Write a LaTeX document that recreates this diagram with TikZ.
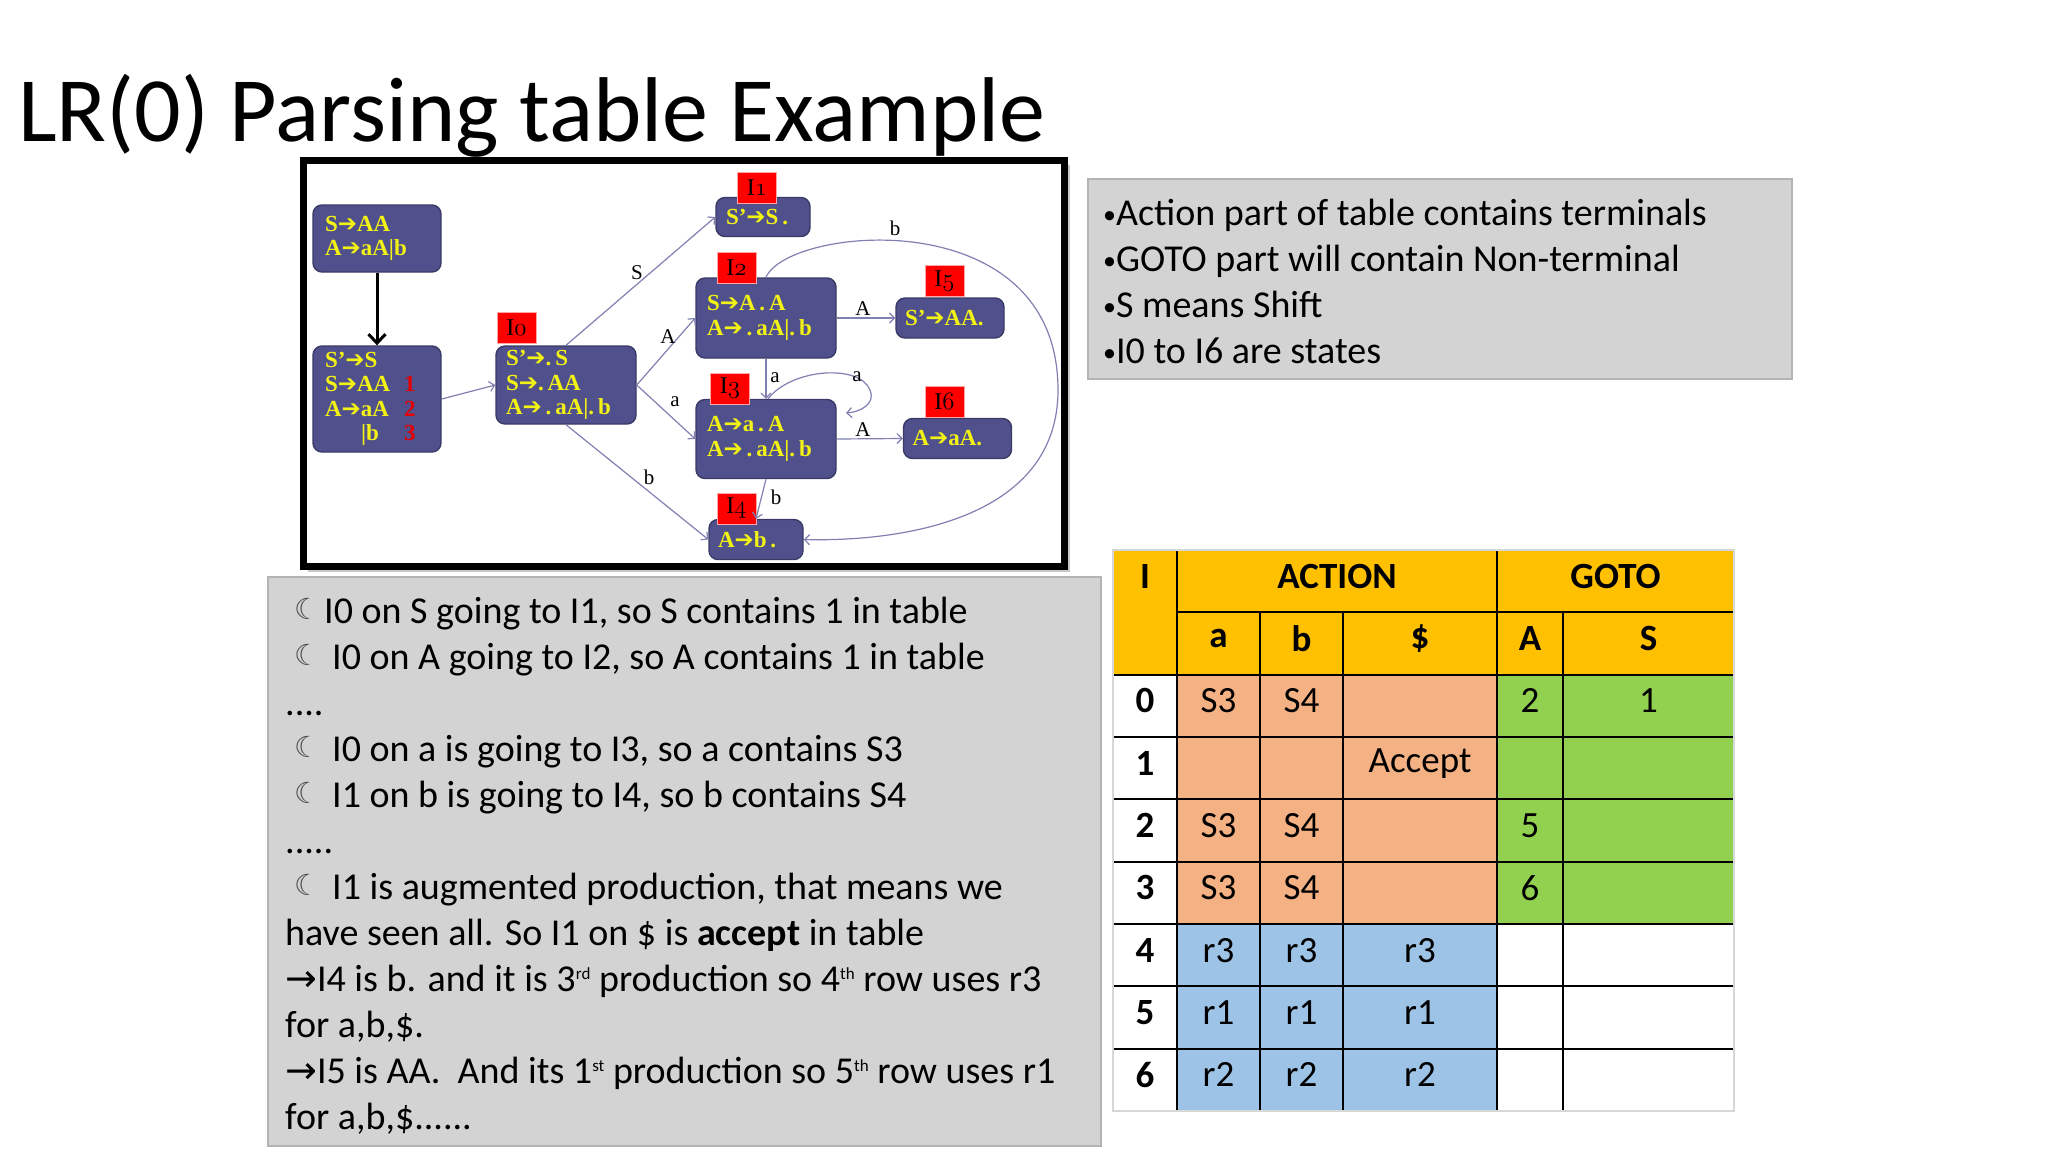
\documentclass[tikz,border=0pt]{standalone}
\usepackage{fontspec}
\setmainfont{Carlito}
\newfontfamily\dser{Liberation Serif}
\newfontfamily\djv{DejaVu Sans}
\usetikzlibrary{arrows.meta,calc}
\definecolor{nodefill}{RGB}{80,80,140}
\definecolor{nodeline}{RGB}{58,58,102}
\definecolor{ntext}{RGB}{242,242,20}
\definecolor{edgec}{RGB}{128,128,178}
\definecolor{boxgray}{RGB}{211,211,211}
\definecolor{boxline}{RGB}{180,180,180}
\definecolor{hdrc}{RGB}{255,192,0}
\definecolor{actc}{RGB}{244,177,131}
\definecolor{gotoc}{RGB}{146,208,80}
\definecolor{redc}{RGB}{157,195,230}
\definecolor{tborder}{RGB}{215,215,215}
\definecolor{numred}{RGB}{230,0,0}
\newcommand\rarr{{\djv\mdseries\fontsize{23}{23}\selectfont ➔}}
\newcommand\osn[1]{{\fontencoding{OML}\fontfamily{cmm}\fontseries{m}\fontshape{it}\selectfont #1}}
\newcommand\sups[1]{\raisebox{12pt}{\fontsize{17}{17}\selectfont #1}}
\newcommand\moon{{\djv\fontsize{29}{29}\selectfont\color{black!70}☾}}
\newcommand\bul{{\fontsize{26}{26}\selectfont\raisebox{2pt}{•}}}
\newcommand\prodln[2]{\makebox[79pt][l]{#1}{\color{numred}#2}}
\tikzset{
  stbox/.style={draw=nodeline, fill=nodefill, rounded corners=9pt, line width=1.4pt,
    inner ysep=0pt, text=ntext, font=\dser\bfseries\fontsize{23}{24.5}\selectfont, align=left},
  lblbox/.style={fill=red, draw=red!35, line width=0.8pt, inner sep=0pt,
    minimum width=39pt, minimum height=31pt, font=\dser\fontsize{24}{24}\selectfont},
  elbl/.style={font=\dser\fontsize{21}{21}\selectfont, inner sep=0pt},
  edge/.style={draw=edgec, line width=1.2pt, -{Straight Barb[length=5pt,width=10pt]}},
  txt/.style={anchor=base west, inner sep=0pt, font=\fontsize{38}{46}\selectfont},
  cell/.style={inner sep=0pt, yshift=5pt, font=\fontsize{37}{37}\selectfont},
  hcell/.style={inner sep=0pt, yshift=5pt, font=\bfseries\fontsize{37}{37}\selectfont},
  tl/.style={line width=2pt, black}
}
\begin{document}
\begin{tikzpicture}[x=1pt,y=-1pt]
\useasboundingbox (0,0) rectangle (2048,1152);
\fill[white] (0,0) rectangle (2048,1152);

% ---------- diagram frame ----------
\fill[black!22] (308,165) rectangle (1070,572);
\draw[line width=7pt, fill=white] (303.5,160.5) rectangle (1064.5,566.5);

% ---------- title ----------
\node[anchor=base west, inner sep=0pt, font=\fontsize{92}{100}\selectfont] (title) at (18,141) {LR(0) Parsing table Example};

% ---------- states ----------
\node[stbox, minimum width=128pt, minimum height=67pt, inner xsep=12pt, text width=104pt] (G) at (377,238.5)
  {S\rarr AA\\A\rarr aA|b};
\node[stbox, minimum width=128pt, minimum height=106pt, inner xsep=12pt, text width=104pt] (Aug) at (377,399)
  {S’\rarr S\\\prodln{S\rarr AA}{1}\\\prodln{A\rarr aA}{2}\\\prodln{\hspace*{36pt}|b}{3}};
\node[stbox, minimum width=140pt, minimum height=78pt, inner xsep=10pt, text width=120pt] (I0) at (566,385)
  {S’\rarr .\,S\\S\rarr .\,AA\\A\rarr\,.\,aA|.\,b};
\node[stbox, minimum width=94pt, minimum height=39pt, inner xsep=10pt, text width=74pt] (I1) at (763,217)
  {S’\rarr S\,.};
\node[stbox, minimum width=140pt, minimum height=80pt, inner xsep=11pt, text width=118pt] (I2) at (766,318)
  {S\rarr A\,.\,A\\A\rarr\,.\,aA|.\,b};
\node[stbox, minimum width=108pt, minimum height=40pt, inner xsep=9pt, text width=90pt] (I5) at (950,318)
  {S’\rarr AA.};
\node[stbox, minimum width=140pt, minimum height=79pt, inner xsep=11pt, text width=118pt] (I3) at (766,439)
  {A\rarr a\,.\,A\\A\rarr\,.\,aA|.\,b};
\node[stbox, minimum width=108pt, minimum height=40pt, inner xsep=9pt, text width=90pt] (I6) at (957.5,438.5)
  {A\rarr aA.};
\node[stbox, minimum width=94pt, minimum height=40pt, inner xsep=9pt, text width=76pt] (I4) at (756,539.5)
  {A\rarr b\,.};

% ---------- state labels ----------
\node[lblbox] (L0) at (516.5,328) {I\osn{0}};
\node[lblbox] (L1) at (757,187.5) {I\osn{1}};
\node[lblbox] (L2) at (736.5,267.5) {I\osn{2}};
\node[lblbox] (L5) at (944.5,281) {I\osn{5}};
\node[lblbox] (L3) at (730,388.5) {I\osn{3}};
\node[lblbox] (L6) at (944.5,401.5) {I\osn{6}};
\node[lblbox] (L4) at (736.5,508.5) {I\osn{4}};

% ---------- connectors ----------
\draw[line width=3pt, -{Straight Barb[length=9pt,width=17pt]}] (G.south) -- (Aug.north);
\draw[edge] (Aug.east) -- (I0.west);
\draw[edge] (I0.north) -- (I1.west);
\draw[edge] (I0.east) -- (I2.west);
\draw[edge] (I0.east) -- (I3.west);
\draw[edge] (I0.south) -- (I4.west);
\draw[edge] (I2.east) -- (I5.west);
\draw[edge] (I2.south) -- (I3.north);
\draw[edge] (I3.east) -- (I6.west);
\draw[edge] (I3.south) -- (I4.north);
\coordinate (loopend) at (846,413);
\draw[edge] ($(I3.north)+(2,0)$) .. controls (792,368) and (860,364) .. (870,390)
   .. controls (876,404) and (860,412) .. (loopend);
\coordinate (bmid) at (1058,390);
\draw[edge] (I2.north) .. controls (788,226) and (1058,200) .. (bmid)
   .. controls (1058,520) and (900,542) .. (I4.east);

% ---------- edge labels ----------
\node[elbl] (eS) at (637,273) {S};
\node[elbl] (eA0) at (668,337) {A};
\node[elbl] (ea0) at (675,402) {a};
\node[elbl] (eb0) at (649,477) {b};
\node[elbl] (eA2) at (863,309) {A};
\node[elbl] (ea2) at (775,378) {a};
\node[elbl] (ea3) at (857,377) {a};
\node[elbl] (eA3) at (863,430) {A};
\node[elbl] (eb3) at (776,497) {b};
\node[elbl] (eb2) at (895,228) {b};

% ---------- right info box ----------
\draw[fill=boxgray, draw=boxline, line width=1.5pt] (1088,179) rectangle (1792,379);
\node[txt] (n1) at (1103,225) {\bul Action part of table contains terminals};
\node[txt] (n2) at (1103,271) {\bul GOTO part will contain Non-terminal};
\node[txt] (n3) at (1103,317) {\bul S means Shift};
\node[txt] (n4) at (1103,363) {\bul I0 to I6 are states};

% ---------- bottom-left text box ----------
\draw[fill=boxgray, draw=boxline, line width=1.5pt] (268,577) rectangle (1101,1146);
\node[txt] (m1) at (294,619) {\moon};
\node[txt] (t1) at (324,623) {I0 on S going to I1, so S contains 1 in table};
\node[txt] (m2) at (294,665) {\moon};
\node[txt] (t2) at (332,669) {I0 on A going to I2, so A contains 1 in table};
\node[txt] (t3) at (285,715) {....};
\node[txt] (m4) at (294,757) {\moon};
\node[txt] (t4) at (332,761) {I0 on a is going to I3, so a contains S3};
\node[txt] (m5) at (294,803) {\moon};
\node[txt] (t5) at (332,807) {I1 on b is going to I4, so b contains S4};
\node[txt] (t6) at (285,853) {.....};
\node[txt] (m7) at (294,895) {\moon};
\node[txt] (t7) at (332,899) {I1 is augmented production, that means we};
\node[txt] (t8) at (285,945) {have seen all. So I1 on \$ is \textbf{accept} in table};
\node[txt] (t9) at (285,991) {{\djv →}I4 is b. and it is 3\sups{rd} production so 4\sups{th} row uses r3};
\node[txt] (t10) at (285,1037) {for a,b,\$.};
\node[txt] (t11) at (285,1083) {{\djv →}I5 is AA.\ \ And its 1\sups{st} production so 5\sups{th} row uses r1};
\node[txt] (t12) at (285,1129) {for a,b,\$......};

% ---------- table ----------
\def\ra{550}\def\rb{612.33}\def\rc{674.67}\def\rd{924}\def\re{1111}
\fill[hdrc] (1113,\ra) rectangle (1734,\rc);
\fill[white] (1113,\rc) rectangle (1177,\re);
\fill[actc] (1177,\rc) rectangle (1497,\rd);
\fill[gotoc] (1497,\rc) rectangle (1734,\rd);
\fill[redc] (1177,\rd) rectangle (1497,\re);
\fill[white] (1497,\rd) rectangle (1734,\re);
\draw[tl] (1177,\rb) -- (1734,\rb);
\foreach \k in {0,...,6} {
  \draw[tl] (1113,{674.67+62.33*\k}) -- (1734,{674.67+62.33*\k});
}
\draw[tl] (1177,\ra) -- (1177,\re);
\draw[tl] (1497,\ra) -- (1497,\re);
\draw[tl] (1260,\rb) -- (1260,\re);
\draw[tl] (1343,\rb) -- (1343,\re);
\draw[tl] (1563,\rb) -- (1563,\re);
\draw[tborder, line width=2pt] (1113,\ra) rectangle (1734,\re);

\node[hcell] (hI) at (1145,581) {I};
\node[hcell] (hAct) at (1337,581) {ACTION};
\node[hcell] (hGo) at (1615.5,581) {GOTO};
\node[hcell] (ha) at (1218.5,643.5) {a};
\node[hcell] (hb) at (1301.5,643.5) {b};
\node[hcell] (hd) at (1420,643.5) {\$};
\node[hcell] (hA) at (1530,643.5) {A};
\node[hcell] (hS) at (1648.5,643.5) {S};

\foreach \k in {0,...,6} {
  \node[hcell] (row\k) at (1145,{705.83+62.33*\k}) {\k};
}
\node[cell] (c0a) at (1218.5,705.83) {S3};
\node[cell] (c0b) at (1301.5,705.83) {S4};
\node[cell] (c0A) at (1530,705.83) {2};
\node[cell] (c0S) at (1648.5,705.83) {1};
\node[cell] (c1d) at (1420,768.17) {Accept};
\node[cell] (c2a) at (1218.5,830.5) {S3};
\node[cell] (c2b) at (1301.5,830.5) {S4};
\node[cell] (c2A) at (1530,830.5) {5};
\node[cell] (c3a) at (1218.5,892.83) {S3};
\node[cell] (c3b) at (1301.5,892.83) {S4};
\node[cell] (c3A) at (1530,892.83) {6};
\node[cell] (c4a) at (1218.5,955.17) {r3};
\node[cell] (c4b) at (1301.5,955.17) {r3};
\node[cell] (c4d) at (1420,955.17) {r3};
\node[cell] (c5a) at (1218.5,1017.5) {r1};
\node[cell] (c5b) at (1301.5,1017.5) {r1};
\node[cell] (c5d) at (1420,1017.5) {r1};
\node[cell] (c6a) at (1218.5,1079.83) {r2};
\node[cell] (c6b) at (1301.5,1079.83) {r2};
\node[cell] (c6d) at (1420,1079.83) {r2};
\end{tikzpicture}
\end{document}
